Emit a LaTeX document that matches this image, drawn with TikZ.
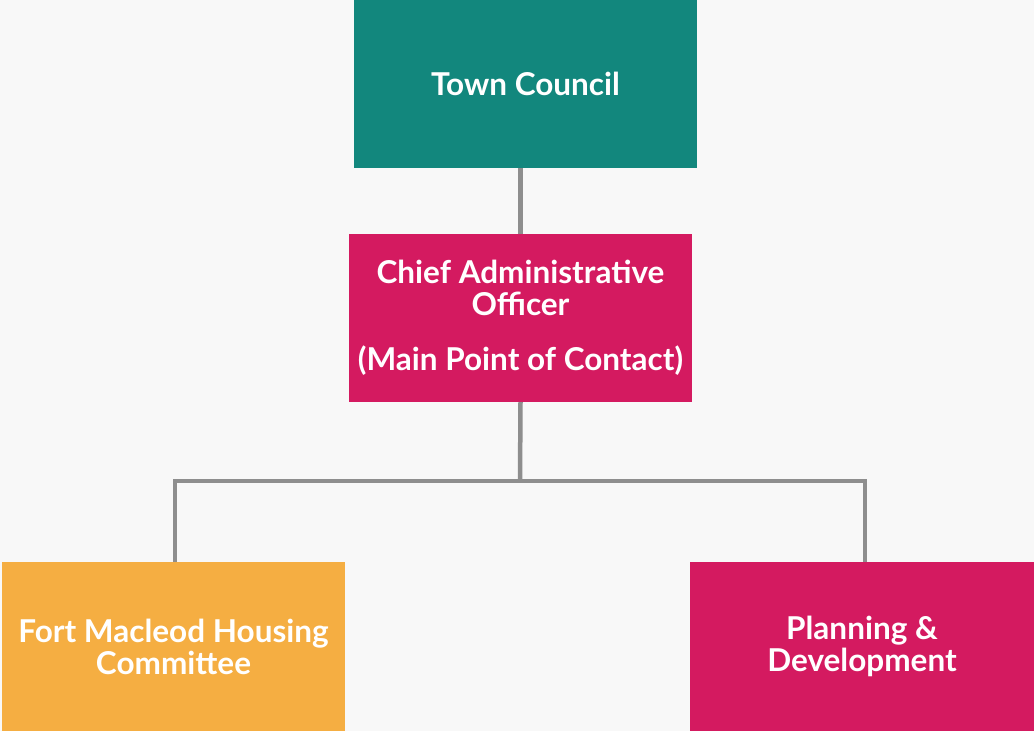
\documentclass[tikz,border=0pt]{standalone}
\usepackage{fontspec}
\setmainfont{Lato}
\definecolor{bgc}{HTML}{F8F8F8}
\definecolor{teal}{HTML}{12877D}
\definecolor{mag}{HTML}{D41A60}
\definecolor{orng}{HTML}{F5AE42}
\definecolor{linec}{HTML}{8E8E8E}
\begin{document}
\begin{tikzpicture}[x=1pt,y=-1pt,
  box/.style={minimum width=343pt,minimum height=168pt,inner sep=0pt,text=white,
    font=\fontsize{31.5}{32}\selectfont\bfseries,align=center},
  conn/.style={draw=linec,line width=4.5pt}]
\fill[bgc] (0,0) rectangle (1034,731);
\useasboundingbox (0,0) rectangle (1034,731);
\node[box,fill=teal] (tc) at (525.5,84) {Town Council};
\node[box,fill=mag] (cao) at (520.5,318) {Chief Administrative\\Officer\\[23pt](Main Point of Contact)};
\node[box,fill=orng,minimum height=169pt] (fort) at (173.5,646.5) {Fort Macleod Housing\\Committee};
\node[box,fill=mag,minimum width=344pt,minimum height=169pt] (plan) at (862,646.5) {Planning \&\\Development};
\coordinate (bus) at (520,481);
\draw[conn] (cao.north) -- (cao.north |- tc.south);
\draw[conn] (cao.south) -- (bus);
\draw[conn] ([xshift=1.5pt]fort.north) |- (bus) -| ([xshift=3pt]plan.north);
\end{tikzpicture}
\end{document}
